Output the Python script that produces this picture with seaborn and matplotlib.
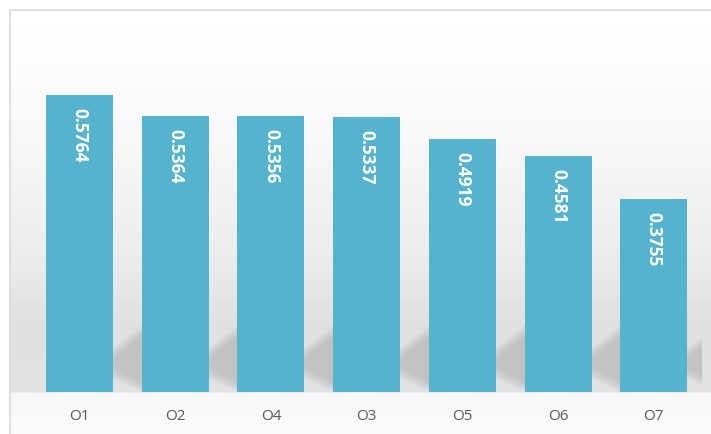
import numpy as np
import matplotlib
matplotlib.use("Agg")
import matplotlib.pyplot as plt
from matplotlib.patches import Rectangle, Polygon
import seaborn as sns
import pandas as pd

categories = ["O1", "O2", "O4", "O3", "O5", "O6", "O7"]
values = [0.5764, 0.5364, 0.5356, 0.5337, 0.4919, 0.4581, 0.3755]
value_labels = ["0.5764", "0.5364", "0.5356", "0.5337", "0.4919", "0.4581", "0.3755"]

df = pd.DataFrame({"cat": categories, "val": values})

sns.set_theme(style="white")
plt.rcParams["font.family"] = ["Open Sans", "DejaVu Sans"]

W, H = 711, 434
fig = plt.figure(figsize=(W / 100, H / 100), dpi=100)
fig.patch.set_facecolor("white")

# background gradient panel (inside the border)
bg = fig.add_axes([10 / W, 0, (W - 10) / W, (H - 10) / H])
bg.set_zorder(-5)
rows = np.arange(10, H) + 0.5
stops_y = [10, 60, 150, 250, 330, 392, 393, 420, 434]
stops_v = [1.0, 0.99, 0.965, 0.925, 0.875, 0.885, 0.965, 0.975, 0.98]
g = np.interp(rows, stops_y, stops_v)
img = np.repeat(g[:, None], 2, axis=1)
bg.imshow(img, cmap="gray", vmin=0, vmax=1, aspect="auto",
          extent=[0, 1, 0, 1], interpolation="nearest")
bg.axis("off")

# border
fig.patches.append(Rectangle((10 / W, -10 / H), (W + 20) / W, (H) / H,
                             transform=fig.transFigure, fill=False,
                             edgecolor="#d9d9d9", linewidth=1.2, zorder=10))

ax_l, ax_w = 31.6, 670.0
ax_b, ax_h = 42.0, 360.5
ax = fig.add_axes([ax_l / W, ax_b / H, ax_w / W, ax_h / H])
ax.set_facecolor("none")

sns.barplot(data=df, x="cat", y="val", order=categories, color="#56b3cd",
            saturation=1, width=0.7, ax=ax, zorder=3, linewidth=0,
            edgecolor="none")
ax.set_ylim(0, 0.7)
ax.set_xlim(-0.5, len(categories) - 0.5)

xs = ax_w / len(categories)  # px per x unit
ys = ax_h / 0.7              # px per y unit

# soft shadows to the right of each bar
for p in ax.patches[: len(categories)]:
    R = p.get_x() + p.get_width()
    for k in range(12):
        inset = k * 1.1
        pts_px = [(-10, 18 + inset), (30, -2 + inset), (30, 68 - inset), (-10, 36 - inset)]
        pts = [(R + px / xs, max(py, 0) / ys) for px, py in pts_px]
        ax.add_patch(Polygon(pts, closed=True, facecolor="#a8a8a8",
                             edgecolor="none", alpha=0.05, zorder=1))

for p, lab in zip(ax.patches[: len(categories)], value_labels):
    cx = p.get_x() + p.get_width() / 2
    top = p.get_height()
    ax.annotate(lab, (cx, top), xytext=(0, -13), textcoords="offset pixels",
                rotation=270, ha="center", va="top", color="white",
                fontsize=12.5, fontweight="bold", zorder=5)

for s in ax.spines.values():
    s.set_visible(False)
ax.set_yticks([])
ax.set_xlabel("")
ax.set_ylabel("")
ax.tick_params(axis="x", length=0, pad=12.5, labelsize=11, labelcolor="#595959")

fig.savefig("out.png", dpi=100)
